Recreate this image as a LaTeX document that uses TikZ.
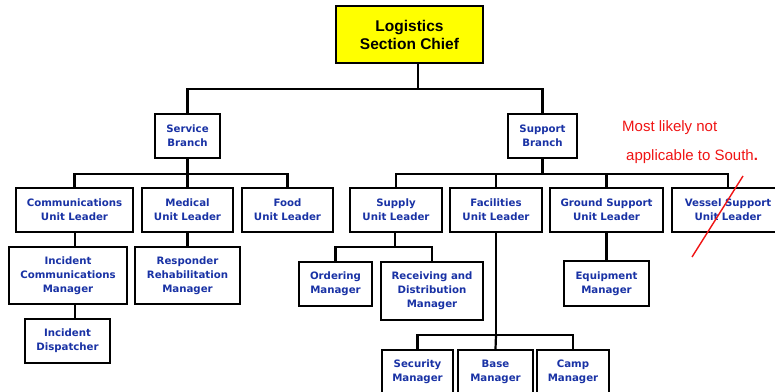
\documentclass[tikz,border=0pt]{standalone}
\usepackage{fontspec}
\setmainfont{DejaVu Sans}
\newfontfamily\arialfont{Liberation Sans}
\definecolor{orgblue}{RGB}{25,50,165}
\definecolor{chiefyellow}{RGB}{255,255,0}
\definecolor{notered}{RGB}{240,20,20}
\begin{document}
\begin{tikzpicture}[x=1pt,y=-1pt,
  unitbox/.style={draw=black,line width=2.2pt,fill=white,inner sep=0pt,align=center,
    font=\fontsize{10.2}{14}\selectfont\bfseries,text=orgblue},
  link/.style={draw=black,line width=2.2pt}]
\useasboundingbox (0,0) rectangle (775,391);
\clip (0,0) rectangle (775,391);
\fill[white] (0,0) rectangle (775,391);

% top of the organisation
\node[unitbox,fill=chiefyellow,text=black,font=\arialfont\fontsize{15.5}{18}\selectfont\bfseries,
  minimum width=147pt,minimum height=57pt] (chief) at (409.5,34.5) {Logistics\\Section Chief};

% branches
\node[unitbox,minimum width=65pt,minimum height=44pt] (service) at (187.5,136) {Service\\Branch};
\node[unitbox,minimum width=69pt,minimum height=44pt] (support) at (542.5,136) {Support\\Branch};

% unit leaders
\node[unitbox,minimum width=117pt,minimum height=44pt] (comm) at (74.5,210) {Communications\\Unit Leader};
\node[unitbox,minimum width=91pt,minimum height=44pt] (medical) at (187.5,210) {Medical\\Unit Leader};
\node[unitbox,minimum width=91pt,minimum height=44pt] (food) at (287.5,210) {Food\\Unit Leader};
\node[unitbox,minimum width=92pt,minimum height=44pt] (supply) at (396,210) {Supply\\Unit Leader};
\node[unitbox,minimum width=92pt,minimum height=44pt] (facilities) at (496,210) {Facilities\\Unit Leader};
\node[unitbox,minimum width=113pt,minimum height=44pt] (ground) at (606.5,210) {Ground Support\\Unit Leader};
\node[unitbox,minimum width=112pt,minimum height=44pt] (vessel) at (728,210) {Vessel Support\\Unit Leader};

% managers
\node[unitbox,minimum width=118pt,minimum height=57pt] (icm) at (68,275.5) {Incident\\Communications\\Manager};
\node[unitbox,minimum width=105pt,minimum height=57pt] (rrm) at (187.5,275.5) {Responder\\Rehabilitation\\Manager};
\node[unitbox,minimum width=85pt,minimum height=44pt] (disp) at (67.5,341) {Incident\\Dispatcher};
\node[unitbox,minimum width=73pt,minimum height=44pt] (ordering) at (335.5,284) {Ordering\\Manager};
\node[unitbox,minimum width=102pt,minimum height=58pt] (receiving) at (432,291) {Receiving and\\Distribution\\Manager};
\node[unitbox,minimum width=85pt,minimum height=45pt] (equip) at (606.5,283.5) {Equipment\\Manager};
\node[unitbox,minimum width=71pt,minimum height=44pt] (security) at (417.5,372) {Security\\Manager};
\node[unitbox,minimum width=75pt,minimum height=44pt] (base) at (495.5,372) {Base\\Manager};
\node[unitbox,minimum width=72pt,minimum height=44pt] (camp) at (573,372) {Camp\\Manager};

% bus points
\coordinate (cjoin) at (418,89);
\coordinate (sbus) at (187.5,174);
\coordinate (pbus) at (542.5,174);
\coordinate (subus) at (395,247);
\coordinate (fbus) at (496,335);
\coordinate (cdrop) at (75,247);
\coordinate (idrop) at (75,319);

% connectors
\draw[link] (chief.south -| cjoin) -- (cjoin);
\draw[link] (service.north) |- (cjoin) -| (support.north);
\draw[link] (service.south) -- (sbus);
\draw[link] (comm.north) |- (sbus) -| (food.north);
\draw[link] (sbus) -- (medical.north);
\draw[link] (support.south) -- (pbus);
\draw[link] (supply.north) |- (pbus) -| (vessel.north);
\draw[link] (facilities.north) -- (facilities.north |- pbus);
\draw[link] (ground.north) -- (ground.north |- pbus);
\draw[link] (supply.south -| subus) -- (subus);
\draw[link] (ordering.north) |- (subus) -| (receiving.north);
\draw[link] (facilities.south) -- (fbus);
\draw[link] (security.north) |- (fbus) -| (camp.north);
\draw[link] (fbus) -- (base.north);
\draw[link] (ground.south) -- (equip.north);
\draw[link] (comm.south -| cdrop) -- (cdrop);
\draw[link] (icm.south -| idrop) -- (idrop);
\draw[link] (medical.south) -- (rrm.north);

% annotation
\node[anchor=west,inner sep=0pt,text=notered,font=\arialfont\fontsize{15}{18}\selectfont] (note1) at (622,128) {Most likely not};
\node[anchor=west,inner sep=0pt,text=notered,font=\arialfont\fontsize{15}{18}\selectfont] (note2) at (626,157) {applicable to South\textbf{.}};
\coordinate (strikeA) at (743,176);
\coordinate (strikeB) at (692,257);
\draw[notered,line width=1.4pt] (strikeA) -- (strikeB);
\end{tikzpicture}
\end{document}
